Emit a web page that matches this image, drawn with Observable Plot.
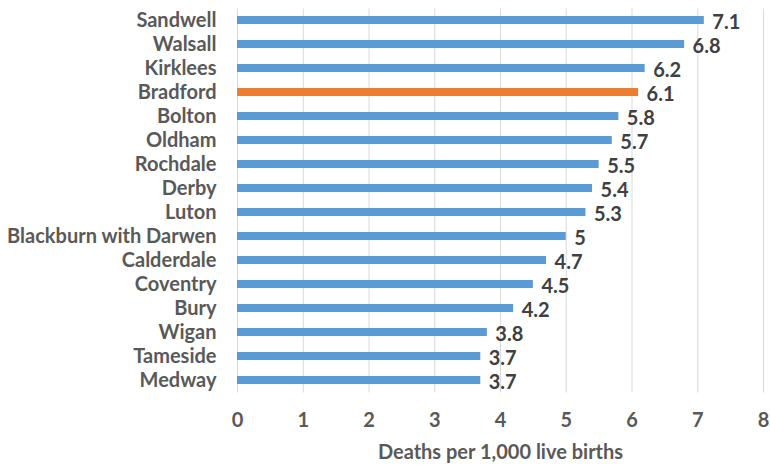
<!DOCTYPE html>
<html>
<head>
<meta charset="utf-8">
<script src="https://cdn.jsdelivr.net/npm/d3@7"></script>
<script src="https://cdn.jsdelivr.net/npm/@observablehq/plot@0.6"></script>
<style>
  html, body { margin: 0; padding: 0; background: #fff; }
  #chart svg { display: block; }
</style>
</head>
<body>
<div id="chart"></div>
<script>
const areas = ["Sandwell","Walsall","Kirklees","Bradford","Bolton","Oldham","Rochdale","Derby","Luton","Blackburn with Darwen","Calderdale","Coventry","Bury","Wigan","Tameside","Medway"];
const rates = [7.1,6.8,6.2,6.1,5.8,5.7,5.5,5.4,5.3,5,4.7,4.5,4.2,3.8,3.7,3.7];
const highlight = "Bradford";
const xTicks = [0,1,2,3,4,5,6,7,8];
const xLabel = "Deaths per 1,000 live births";

const data = areas.map((a, i) => ({area: a, rate: rates[i]}));

const chart = Plot.plot({
  width: 770,
  height: 467,
  marginLeft: 237,
  marginRight: 7,
  marginTop: 8.5,
  marginBottom: 74.5,
  style: {fontFamily: "Lato, sans-serif", fontWeight: "bold", fontSize: "20px", color: "#595959", background: "#fff"},
  x: {domain: [0, 8], ticks: xTicks, tickSize: 0, tickPadding: 20, label: xLabel, labelArrow: "none", labelAnchor: "center", labelOffset: 66},
  y: {domain: areas, paddingInner: 0.66, paddingOuter: 0.33, tickSize: 0, tickPadding: 21, label: null},
  marks: [
    Plot.gridX(xTicks, {stroke: "#d9d9d9", strokeOpacity: 1}),
    Plot.barX(data, {x: "rate", y: "area", fill: d => d.area === highlight ? "#ED7D31" : "#5B9BD5"}),
    Plot.text(data, {x: "rate", y: "area", text: d => String(d.rate), textAnchor: "start", dx: 8, dy: 2, fill: "#404040", fontSize: 20, fontWeight: "bold"})
  ]
});
document.getElementById("chart").appendChild(chart);
</script>
</body>
</html>
